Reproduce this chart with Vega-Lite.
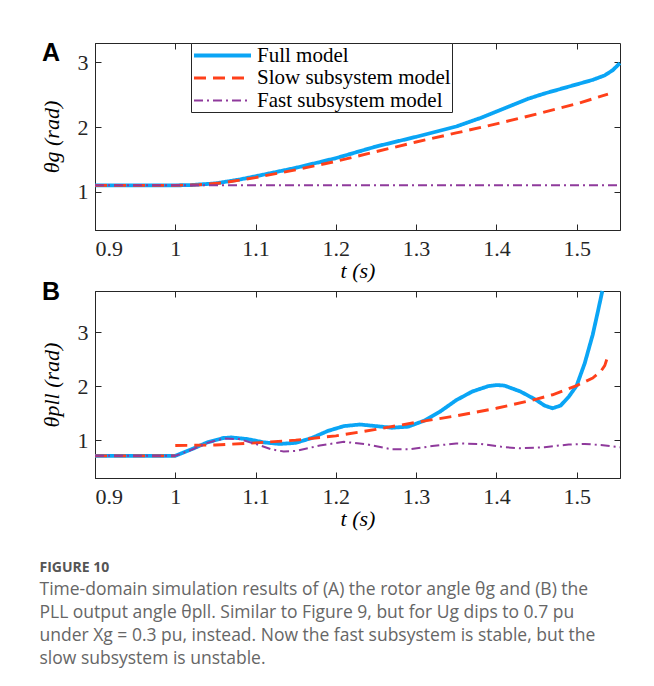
{
  "$schema": "https://vega.github.io/schema/vega-lite/v6.json",
  "padding": {"left": 39, "top": 40, "right": 5, "bottom": 5},
  "background": "white",
  "config": {
    "view": {"stroke": "#262626", "strokeWidth": 1},
    "axis": {
      "labelFont": "Liberation Serif", "labelFontSize": 22, "labelColor": "#262626",
      "titleFont": "Liberation Serif", "titleFontSize": 22, "titleFontStyle": "italic",
      "titleFontWeight": "normal", "titleColor": "black",
      "domainColor": "#262626", "tickColor": "#262626", "tickSize": -6, "grid": false,
      "labelPadding": 14
    },
    "axisY": {"labelPadding": 13},
    "line": {"clip": true}
  },
  "datasets": {
    "A": [
      {"series": "Full model", "seg": 1, "t": 0.9, "v": 1.1},
      {"series": "Full model", "seg": 1, "t": 1.0, "v": 1.1},
      {"series": "Full model", "seg": 1, "t": 1.02, "v": 1.105},
      {"series": "Full model", "seg": 1, "t": 1.05, "v": 1.13},
      {"series": "Full model", "seg": 1, "t": 1.08, "v": 1.19},
      {"series": "Full model", "seg": 1, "t": 1.1, "v": 1.24},
      {"series": "Full model", "seg": 1, "t": 1.15, "v": 1.37},
      {"series": "Full model", "seg": 1, "t": 1.2, "v": 1.52},
      {"series": "Full model", "seg": 1, "t": 1.25, "v": 1.7},
      {"series": "Full model", "seg": 1, "t": 1.3, "v": 1.85},
      {"series": "Full model", "seg": 1, "t": 1.35, "v": 2.01},
      {"series": "Full model", "seg": 1, "t": 1.38, "v": 2.14},
      {"series": "Full model", "seg": 1, "t": 1.4, "v": 2.24},
      {"series": "Full model", "seg": 1, "t": 1.42, "v": 2.34},
      {"series": "Full model", "seg": 1, "t": 1.44, "v": 2.44},
      {"series": "Full model", "seg": 1, "t": 1.46, "v": 2.52},
      {"series": "Full model", "seg": 1, "t": 1.48, "v": 2.59},
      {"series": "Full model", "seg": 1, "t": 1.5, "v": 2.66},
      {"series": "Full model", "seg": 1, "t": 1.52, "v": 2.73},
      {"series": "Full model", "seg": 1, "t": 1.535, "v": 2.8},
      {"series": "Full model", "seg": 1, "t": 1.545, "v": 2.88},
      {"series": "Full model", "seg": 1, "t": 1.554, "v": 2.99},
      {"series": "Slow subsystem model", "seg": 1, "t": 0.9, "v": 1.1},
      {"series": "Slow subsystem model", "seg": 1, "t": 1.0, "v": 1.1},
      {"series": "Slow subsystem model", "seg": 1, "t": 1.03, "v": 1.11},
      {"series": "Slow subsystem model", "seg": 1, "t": 1.06, "v": 1.14},
      {"series": "Slow subsystem model", "seg": 1, "t": 1.1, "v": 1.22},
      {"series": "Slow subsystem model", "seg": 1, "t": 1.15, "v": 1.34},
      {"series": "Slow subsystem model", "seg": 1, "t": 1.2, "v": 1.47},
      {"series": "Slow subsystem model", "seg": 1, "t": 1.25, "v": 1.62},
      {"series": "Slow subsystem model", "seg": 1, "t": 1.3, "v": 1.77},
      {"series": "Slow subsystem model", "seg": 1, "t": 1.35, "v": 1.91},
      {"series": "Slow subsystem model", "seg": 1, "t": 1.4, "v": 2.05},
      {"series": "Slow subsystem model", "seg": 1, "t": 1.45, "v": 2.2},
      {"series": "Slow subsystem model", "seg": 1, "t": 1.5, "v": 2.36},
      {"series": "Slow subsystem model", "seg": 1, "t": 1.539, "v": 2.51},
      {"series": "Fast subsystem model", "seg": 1, "t": 0.9, "v": 1.1},
      {"series": "Fast subsystem model", "seg": 1, "t": 1.554, "v": 1.1}
    ],
    "B": [
      {"series": "Full model", "seg": 1, "t": 0.9, "v": 0.71},
      {"series": "Full model", "seg": 1, "t": 1.0, "v": 0.71},
      {"series": "Full model", "seg": 1, "t": 1.02, "v": 0.83},
      {"series": "Full model", "seg": 1, "t": 1.04, "v": 0.96},
      {"series": "Full model", "seg": 1, "t": 1.06, "v": 1.04},
      {"series": "Full model", "seg": 1, "t": 1.07, "v": 1.05},
      {"series": "Full model", "seg": 1, "t": 1.09, "v": 1.02},
      {"series": "Full model", "seg": 1, "t": 1.11, "v": 0.96},
      {"series": "Full model", "seg": 1, "t": 1.13, "v": 0.93},
      {"series": "Full model", "seg": 1, "t": 1.15, "v": 0.95},
      {"series": "Full model", "seg": 1, "t": 1.17, "v": 1.04},
      {"series": "Full model", "seg": 1, "t": 1.19, "v": 1.17},
      {"series": "Full model", "seg": 1, "t": 1.21, "v": 1.26},
      {"series": "Full model", "seg": 1, "t": 1.23, "v": 1.29},
      {"series": "Full model", "seg": 1, "t": 1.25, "v": 1.26},
      {"series": "Full model", "seg": 1, "t": 1.27, "v": 1.23},
      {"series": "Full model", "seg": 1, "t": 1.29, "v": 1.25},
      {"series": "Full model", "seg": 1, "t": 1.31, "v": 1.36},
      {"series": "Full model", "seg": 1, "t": 1.33, "v": 1.53},
      {"series": "Full model", "seg": 1, "t": 1.35, "v": 1.74},
      {"series": "Full model", "seg": 1, "t": 1.37, "v": 1.9},
      {"series": "Full model", "seg": 1, "t": 1.39, "v": 2.0},
      {"series": "Full model", "seg": 1, "t": 1.4, "v": 2.02},
      {"series": "Full model", "seg": 1, "t": 1.41, "v": 2.01},
      {"series": "Full model", "seg": 1, "t": 1.43, "v": 1.9},
      {"series": "Full model", "seg": 1, "t": 1.45, "v": 1.74},
      {"series": "Full model", "seg": 1, "t": 1.46, "v": 1.64},
      {"series": "Full model", "seg": 1, "t": 1.47, "v": 1.59},
      {"series": "Full model", "seg": 1, "t": 1.48, "v": 1.64},
      {"series": "Full model", "seg": 1, "t": 1.49, "v": 1.8},
      {"series": "Full model", "seg": 1, "t": 1.5, "v": 2.01},
      {"series": "Full model", "seg": 1, "t": 1.51, "v": 2.42},
      {"series": "Full model", "seg": 1, "t": 1.52, "v": 2.95},
      {"series": "Full model", "seg": 1, "t": 1.526, "v": 3.35},
      {"series": "Full model", "seg": 1, "t": 1.532, "v": 3.76},
      {"series": "Slow subsystem model", "seg": 1, "t": 0.9, "v": 0.71},
      {"series": "Slow subsystem model", "seg": 1, "t": 1.0, "v": 0.71},
      {"series": "Slow subsystem model", "seg": 2, "t": 1.0, "v": 0.9},
      {"series": "Slow subsystem model", "seg": 2, "t": 1.05, "v": 0.91},
      {"series": "Slow subsystem model", "seg": 2, "t": 1.1, "v": 0.95},
      {"series": "Slow subsystem model", "seg": 2, "t": 1.15, "v": 1.0},
      {"series": "Slow subsystem model", "seg": 2, "t": 1.2, "v": 1.08},
      {"series": "Slow subsystem model", "seg": 2, "t": 1.25, "v": 1.2},
      {"series": "Slow subsystem model", "seg": 2, "t": 1.3, "v": 1.33},
      {"series": "Slow subsystem model", "seg": 2, "t": 1.35, "v": 1.45},
      {"series": "Slow subsystem model", "seg": 2, "t": 1.4, "v": 1.59},
      {"series": "Slow subsystem model", "seg": 2, "t": 1.45, "v": 1.76},
      {"series": "Slow subsystem model", "seg": 2, "t": 1.47, "v": 1.84},
      {"series": "Slow subsystem model", "seg": 2, "t": 1.5, "v": 2.01},
      {"series": "Slow subsystem model", "seg": 2, "t": 1.52, "v": 2.15},
      {"series": "Slow subsystem model", "seg": 2, "t": 1.53, "v": 2.27},
      {"series": "Slow subsystem model", "seg": 2, "t": 1.535, "v": 2.38},
      {"series": "Slow subsystem model", "seg": 2, "t": 1.539, "v": 2.56},
      {"series": "Fast subsystem model", "seg": 1, "t": 0.9, "v": 0.71},
      {"series": "Fast subsystem model", "seg": 1, "t": 1.0, "v": 0.71},
      {"series": "Fast subsystem model", "seg": 1, "t": 1.02, "v": 0.82},
      {"series": "Fast subsystem model", "seg": 1, "t": 1.04, "v": 0.95},
      {"series": "Fast subsystem model", "seg": 1, "t": 1.06, "v": 1.03},
      {"series": "Fast subsystem model", "seg": 1, "t": 1.08, "v": 1.02},
      {"series": "Fast subsystem model", "seg": 1, "t": 1.1, "v": 0.93},
      {"series": "Fast subsystem model", "seg": 1, "t": 1.12, "v": 0.83},
      {"series": "Fast subsystem model", "seg": 1, "t": 1.135, "v": 0.79},
      {"series": "Fast subsystem model", "seg": 1, "t": 1.15, "v": 0.8},
      {"series": "Fast subsystem model", "seg": 1, "t": 1.18, "v": 0.9},
      {"series": "Fast subsystem model", "seg": 1, "t": 1.21, "v": 0.97},
      {"series": "Fast subsystem model", "seg": 1, "t": 1.24, "v": 0.92},
      {"series": "Fast subsystem model", "seg": 1, "t": 1.27, "v": 0.83},
      {"series": "Fast subsystem model", "seg": 1, "t": 1.29, "v": 0.83},
      {"series": "Fast subsystem model", "seg": 1, "t": 1.32, "v": 0.89},
      {"series": "Fast subsystem model", "seg": 1, "t": 1.35, "v": 0.94},
      {"series": "Fast subsystem model", "seg": 1, "t": 1.38, "v": 0.93},
      {"series": "Fast subsystem model", "seg": 1, "t": 1.41, "v": 0.87},
      {"series": "Fast subsystem model", "seg": 1, "t": 1.43, "v": 0.85},
      {"series": "Fast subsystem model", "seg": 1, "t": 1.46, "v": 0.87},
      {"series": "Fast subsystem model", "seg": 1, "t": 1.49, "v": 0.92},
      {"series": "Fast subsystem model", "seg": 1, "t": 1.51, "v": 0.93},
      {"series": "Fast subsystem model", "seg": 1, "t": 1.53, "v": 0.91},
      {"series": "Fast subsystem model", "seg": 1, "t": 1.554, "v": 0.87}
    ]
  },
  "title": {
    "text": "FIGURE 10",
    "subtitle": [
      "Time-domain simulation results of (A) the rotor angle θg and (B) the",
      "PLL output angle θpll. Similar to Figure 9, but for Ug dips to 0.7 pu",
      "under Xg = 0.3 pu, instead. Now the fast subsystem is stable, but the",
      "slow subsystem is unstable."
    ],
    "orient": "bottom", "anchor": "start", "frame": "bounds", "offset": 31,
    "font": "Open Sans", "fontSize": 14, "fontWeight": "bold", "color": "#555555",
    "subtitleFont": "Open Sans", "subtitleFontSize": 17.5, "subtitleColor": "#666666",
    "subtitleLineHeight": 23, "subtitlePadding": 6
  },
  "spacing": -3,
  "resolve": {
    "scale": {"color": "independent", "strokeDash": "independent", "strokeWidth": "independent"},
    "legend": {"color": "independent", "strokeDash": "independent", "strokeWidth": "independent"}
  },
  "vconcat": [
    {
      "width": 525, "height": 187,
      "data": {"name": "A"},
      "title": {"text": "A", "anchor": "start", "frame": "bounds", "font": "Liberation Sans", "fontSize": 25, "fontWeight": "bold", "color": "black", "dx": 2, "dy": 23, "offset": 0},
      "resolve": {"axis": {"x": "independent", "y": "independent"}},
      "layer": [
        {
          "mark": {"type": "line"},
          "encoding": {
            "x": {"field": "t", "type": "quantitative", "scale": {"domain": [0.9, 1.554], "nice": false, "zero": false},
                  "axis": {"values": [0.9, 1.0, 1.1, 1.2, 1.3, 1.4, 1.5], "format": "~g", "title": "t (s)", "titlePadding": 1}},
            "y": {"field": "v", "type": "quantitative", "scale": {"domain": [0.41, 3.3], "nice": false, "zero": false},
                  "axis": {"values": [1, 2, 3], "title": "θg (rad)", "titlePadding": 14}},
            "detail": {"field": "seg"},
            "color": {"field": "series", "type": "nominal",
                      "scale": {"domain": ["Full model", "Slow subsystem model", "Fast subsystem model"], "range": ["#0aa5f5", "#ff401a", "#8f3a9c"]},
                      "legend": {"orient": "none", "legendX": 96, "legendY": 0, "title": null, "strokeColor": "#262626", "fillColor": "white", "padding": 1,
                                 "labelFont": "Liberation Serif", "labelFontSize": 21, "labelColor": "black", "labelLimit": 400,
                                 "symbolType": "M-1,0H5", "symbolSize": 361, "labelOffset": 42, "rowPadding": 1, "cornerRadius": 0}},
            "strokeDash": {"field": "series", "type": "nominal",
                           "scale": {"domain": ["Full model", "Slow subsystem model", "Fast subsystem model"], "range": [[1, 0], [12, 7], [9, 4, 2, 4]]}},
            "strokeWidth": {"field": "series", "type": "nominal",
                            "scale": {"domain": ["Full model", "Slow subsystem model", "Fast subsystem model"], "range": [3.8, 2, 2]}}
          }
        },
        {
          "mark": {"type": "line", "strokeOpacity": 0},
          "encoding": {
            "x": {"field": "t", "type": "quantitative", "axis": {"orient": "top", "values": [0.9, 1.0, 1.1, 1.2, 1.3, 1.4, 1.5], "labels": false, "title": null, "domain": false}},
            "y": {"field": "v", "type": "quantitative", "axis": {"orient": "right", "values": [1, 2, 3], "labels": false, "title": null, "domain": false}},
            "detail": {"field": "series"}
          }
        }
      ]
    },
    {
      "width": 525, "height": 187,
      "data": {"name": "B"},
      "title": {"text": "B", "anchor": "start", "frame": "bounds", "font": "Liberation Sans", "fontSize": 25, "fontWeight": "bold", "color": "black", "dx": 2, "dy": 22, "offset": 0},
      "resolve": {"axis": {"x": "independent", "y": "independent"}},
      "layer": [
        {
          "mark": {"type": "line"},
          "encoding": {
            "x": {"field": "t", "type": "quantitative", "scale": {"domain": [0.9, 1.554], "nice": false, "zero": false},
                  "axis": {"values": [0.9, 1.0, 1.1, 1.2, 1.3, 1.4, 1.5], "format": "~g", "title": "t (s)", "titlePadding": 1}},
            "y": {"field": "v", "type": "quantitative", "scale": {"domain": [0.3, 3.76], "nice": false, "zero": false},
                  "axis": {"values": [1, 2, 3], "title": "θpll (rad)", "titlePadding": 14}},
            "detail": {"field": "seg"},
            "color": {"field": "series", "type": "nominal",
                      "scale": {"domain": ["Full model", "Slow subsystem model", "Fast subsystem model"], "range": ["#0aa5f5", "#ff401a", "#8f3a9c"]},
                      "legend": null},
            "strokeDash": {"field": "series", "type": "nominal",
                           "scale": {"domain": ["Full model", "Slow subsystem model", "Fast subsystem model"], "range": [[1, 0], [12, 7], [9, 4, 2, 4]]}, "legend": null},
            "strokeWidth": {"field": "series", "type": "nominal",
                            "scale": {"domain": ["Full model", "Slow subsystem model", "Fast subsystem model"], "range": [3.8, 2, 2]}, "legend": null}
          }
        },
        {
          "mark": {"type": "line", "strokeOpacity": 0},
          "encoding": {
            "x": {"field": "t", "type": "quantitative", "axis": {"orient": "top", "values": [0.9, 1.0, 1.1, 1.2, 1.3, 1.4, 1.5], "labels": false, "title": null, "domain": false}},
            "y": {"field": "v", "type": "quantitative", "axis": {"orient": "right", "values": [1, 2, 3], "labels": false, "title": null, "domain": false}},
            "detail": {"field": "series"}
          }
        }
      ]
    }
  ]
}
